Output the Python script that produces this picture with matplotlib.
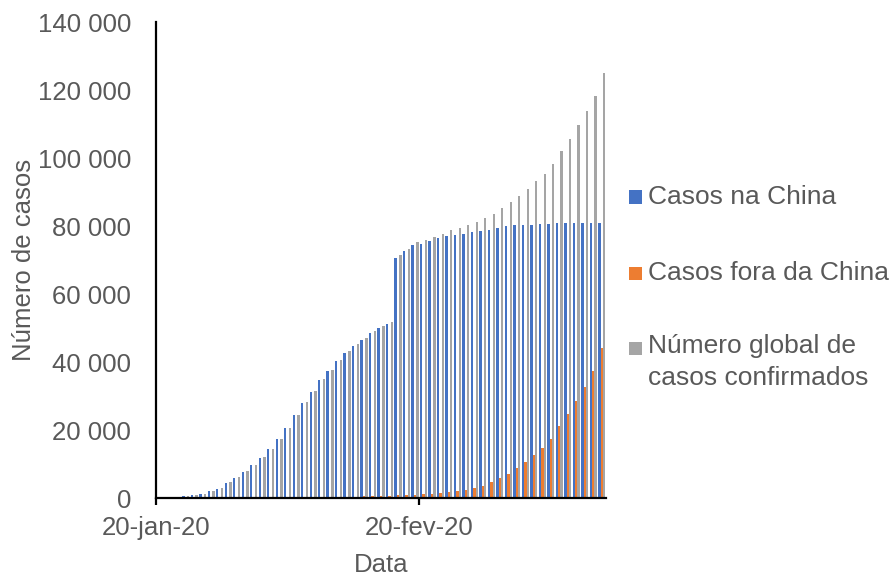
import numpy as np
import matplotlib
matplotlib.use("Agg")
import matplotlib.pyplot as plt
import matplotlib.dates as mdates
from matplotlib.patches import Rectangle
from matplotlib.ticker import FuncFormatter
from datetime import datetime

# daily reports, 2020 (no report on 22-jan)
dates = [
    "2020-01-20", "2020-01-21", "2020-01-23", "2020-01-24", "2020-01-25",
    "2020-01-26", "2020-01-27", "2020-01-28", "2020-01-29", "2020-01-30",
    "2020-01-31", "2020-02-01", "2020-02-02", "2020-02-03", "2020-02-04",
    "2020-02-05", "2020-02-06", "2020-02-07", "2020-02-08", "2020-02-09",
    "2020-02-10", "2020-02-11", "2020-02-12", "2020-02-13", "2020-02-14",
    "2020-02-15", "2020-02-16", "2020-02-17", "2020-02-18", "2020-02-19",
    "2020-02-20", "2020-02-21", "2020-02-22", "2020-02-23", "2020-02-24",
    "2020-02-25", "2020-02-26", "2020-02-27", "2020-02-28", "2020-02-29",
    "2020-03-01", "2020-03-02", "2020-03-03", "2020-03-04", "2020-03-05",
    "2020-03-06", "2020-03-07", "2020-03-08", "2020-03-09", "2020-03-10",
    "2020-03-11", "2020-03-12",
]

china = [
    278, 310, 571, 830, 1297, 1985, 2761, 4537, 5997, 7736,
    9720, 11821, 14411, 17238, 20471, 24363, 28060, 31211, 34598, 37251,
    40235, 42708, 44730, 46550, 48548, 50054, 51174, 70635, 72528, 74280,
    74675, 75569, 76392, 77042, 77262, 77780, 78191, 78630, 78961, 79394,
    79968, 80174, 80304, 80422, 80565, 80711, 80813, 80859, 80904, 80924,
    80955, 80981,
]

outside = [
    4, 4, 10, 16, 23, 29, 37, 56, 68, 82,
    106, 132, 146, 153, 159, 191, 216, 270, 288, 307,
    319, 395, 441, 447, 505, 526, 683, 794, 804, 924,
    1073, 1200, 1402, 1769, 2069, 2459, 2918, 3664, 4691, 6009,
    7169, 8774, 10566, 12668, 14768, 17481, 21110, 24727, 28674, 32778,
    37364, 44067,
]

world = [
    282, 314, 581, 846, 1320, 2014, 2798, 4593, 6065, 7818,
    9826, 11953, 14557, 17391, 20630, 24554, 28276, 31481, 34886, 37558,
    40554, 43103, 45171, 46997, 49053, 50580, 51857, 71429, 73332, 75204,
    75748, 76769, 77794, 78811, 79331, 80239, 81109, 82294, 83652, 85403,
    87137, 88948, 90870, 93090, 95333, 98192, 101923, 105586, 109578, 113702,
    118319, 125048,
]

series_names = ["Casos na China", "Casos fora da China",
                "Número global de\ncasos confirmados"]
colors = ["#4472C4", "#ED7D31", "#A5A5A5"]
tick_dates = ["2020-01-20", "2020-02-20"]
tick_labels = ["20-jan-20", "20-fev-20"]

plt.rcParams["font.family"] = ["Liberation Sans", "DejaVu Sans"]
text_color = "#595959"

fig = plt.figure(figsize=(8.94, 5.77), dpi=100)
ax = fig.add_axes([156 / 894, 1 - 498 / 577, 450 / 894, 476 / 577])

x = mdates.date2num([datetime.strptime(d, "%Y-%m-%d") for d in dates]) + 0.5
w = 0.28
for i, vals in enumerate([china, outside, world]):
    ax.bar(x + (i - 1) * w, vals, width=w, color=colors[i], linewidth=0)

start = mdates.date2num(datetime(2020, 1, 20))
ax.set_xlim(start, start + 53)
ax.set_ylim(0, 140000)
ax.set_yticks(np.arange(0, 140001, 20000))
ax.yaxis.set_major_formatter(FuncFormatter(lambda v, p: f"{int(v):,}".replace(",", " ")))
ax.set_xticks([mdates.date2num(datetime.strptime(d, "%Y-%m-%d")) for d in tick_dates])
ax.set_xticklabels(tick_labels)

for s in ["top", "right"]:
    ax.spines[s].set_visible(False)
for s in ["left", "bottom"]:
    ax.spines[s].set_linewidth(1.6)
    ax.spines[s].set_color("black")

ax.tick_params(axis="y", length=0, pad=18, labelsize=18.5, labelcolor=text_color)
ax.tick_params(axis="x", length=5, width=1.6, pad=8, labelsize=18.5, labelcolor=text_color)

ax.set_xlabel("Data", fontsize=18.5, color=text_color, va="center")
ax.xaxis.set_label_coords(0.5, -0.14)
ax.set_ylabel("Número de casos", fontsize=18.5, color=text_color, va="center")
ax.yaxis.set_label_coords(-0.293, 0.5)

# legend on the right, drawn by hand
legend_y = [197, 273, 348]
for name, col, ly in zip(series_names, colors, legend_y):
    fig.add_artist(Rectangle((629 / 894, 1 - (ly + 6.5) / 577), 13 / 894, 13 / 577,
                             transform=fig.transFigure, color=col, linewidth=0))
    if "\n" in name:
        fig.text(648 / 894, 1 - (ly - 14) / 577, name, fontsize=19, color=text_color,
                 va="top", linespacing=1.4)
    else:
        fig.text(648 / 894, 1 - ly / 577, name, fontsize=19, color=text_color,
                 va="center")

fig.savefig("out.png", dpi=100)
